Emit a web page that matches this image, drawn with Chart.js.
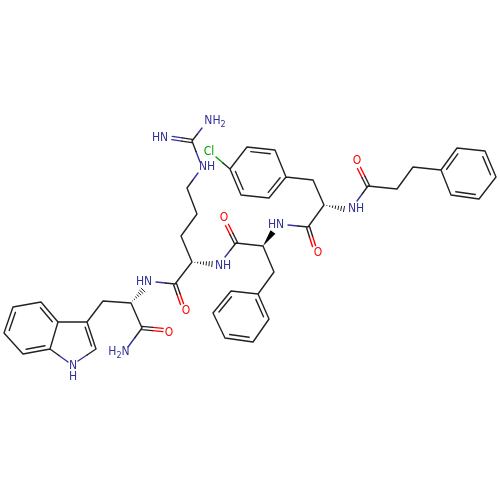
<!DOCTYPE html>
<html>
<head>
<meta charset="utf-8">
<style>
  html, body { margin: 0; padding: 0; background: #fff; }
  #box { width: 500px; height: 500px; }
</style>
<script src="https://cdn.jsdelivr.net/npm/chart.js@4"></script>
</head>
<body>
<div id="box"><canvas id="chart"></canvas></div>
<script>
// atoms (heteroatom entries are the visible bond ends)
const atomX = [13, 41, 58, 50, 23, 4, 87, 96, 68, 78, 103, 131, 142, 163, 128, 175, 182, 156, 192, 181, 197, 187, 198, 192, 172, 202, 236, 227, 263, 225, 308, 314, 288, 324, 313, 286, 275, 247, 230, 241, 269, 216, 274, 258, 231, 213, 225, 253, 269, 368, 359, 357, 397, 413, 441, 457, 485, 496, 479, 451, 200];
const atomY = [307, 302, 322, 349, 354, 333, 322, 349, 362, 361, 301, 303, 328, 330, 347, 284, 304, 282, 262, 236, 214, 188, 173, 141, 138, 128, 243, 225, 246, 257, 227, 246, 225, 205, 180, 177, 150, 147, 169, 195, 198, 157, 272, 294, 291, 313, 338, 342, 319, 186, 168, 201, 189, 167, 170, 148, 151, 177, 199, 195, 162];
const atomEl = ["C", "C", "C", "C", "C", "C", "C", "C", "N", "N", "C", "C", "C", "O", "N", "C", "O", "N", "C", "C", "C", "C", "N", "C", "N", "N", "C", "O", "C", "N", "C", "O", "N", "C", "C", "C", "C", "C", "C", "C", "C", "Cl", "C", "C", "C", "C", "C", "C", "C", "C", "O", "N", "C", "C", "C", "C", "C", "C", "C", "C", "N"];

// bonds drawn as one line
const singleFrom = [0, 1, 2, 3, 4, 5, 2, 6, 3, 7, 6, 10, 11, 12, 15, 15, 18, 19, 20, 21, 60, 23, 26, 26, 28, 42, 43, 44, 45, 46, 47, 48, 30, 30, 33, 34, 35, 36, 37, 38, 39, 40, 38, 49, 49, 52, 53, 54, 55, 56, 57, 58, 59];
const singleTo = [1, 2, 3, 4, 5, 0, 6, 7, 8, 9, 10, 11, 12, 14, 17, 18, 19, 20, 21, 22, 23, 25, 29, 28, 42, 43, 44, 45, 46, 47, 48, 43, 32, 33, 34, 35, 36, 37, 38, 39, 40, 35, 41, 51, 52, 53, 54, 55, 56, 57, 58, 59, 54];

// second line of ring double bonds, pulled towards the ring middle
const innerFrom = [5, 1, 3, 6, 36, 38, 40, 44, 43, 46, 54, 56, 58];
const innerTo = [0, 2, 4, 7, 37, 39, 35, 45, 48, 47, 55, 57, 59];
const innerMidX = [31, 31, 31, 73, 258, 258, 258, 241, 241, 241, 468, 468, 468];
const innerMidY = [328, 328, 328, 342, 173, 173, 173, 316, 316, 316, 174, 174, 174];

// C=O and C=NH bonds, drawn as two parallel lines
const pairFrom = [12, 15, 26, 30, 49, 23];
const pairTo = [13, 16, 27, 31, 50, 24];

// text on the atoms
const labelText = ["N", "H", "H2N", "HN", "O", "O", "NH", "O", "HN", "O", "NH", "NH2", "HN", "Cl", "O", "NH"];
const labelX = [73, 73, 119, 144, 169, 186, 223, 224, 276, 318, 207, 215, 160, 209, 357, 356];
const labelY = [366, 377, 352, 282, 333, 311, 266, 218, 225, 253, 167, 121, 138, 152, 161, 209];
const labelEl = ["N", "N", "N", "N", "O", "O", "N", "O", "N", "O", "N", "N", "N", "Cl", "O", "N"];

// stereo bonds
const hashFrom = [11, 18, 33];
const hashToX = [143, 212, 344];
const hashToY = [290, 264, 209];
const wedgeFrom = [28];
const wedgeToX = [273];
const wedgeToY = [232];

const colors = { C: "#222222", N: "#33339a", O: "#ff0000", Cl: "#00a000" };
const segs = { C: [], N: [], O: [], Cl: [] };

function addSeg(x1, y1, el1, x2, y2, el2) {
  const mx = (x1 + x2) / 2, my = (y1 + y2) / 2;
  segs[el1].push({ x: x1, y: y1 }, { x: mx, y: my }, { x: NaN, y: NaN });
  segs[el2].push({ x: mx, y: my }, { x: x2, y: y2 }, { x: NaN, y: NaN });
}

singleFrom.forEach((a, k) => {
  const b = singleTo[k];
  addSeg(atomX[a], atomY[a], atomEl[a], atomX[b], atomY[b], atomEl[b]);
});

innerFrom.forEach((a, k) => {
  const b = innerTo[k];
  const pull = 0.17;
  const x1 = atomX[a] + (innerMidX[k] - atomX[a]) * pull, y1 = atomY[a] + (innerMidY[k] - atomY[a]) * pull;
  const x2 = atomX[b] + (innerMidX[k] - atomX[b]) * pull, y2 = atomY[b] + (innerMidY[k] - atomY[b]) * pull;
  const dx = (x2 - x1) * 0.08, dy = (y2 - y1) * 0.08;
  segs.C.push({ x: x1 + dx, y: y1 + dy }, { x: x2 - dx, y: y2 - dy }, { x: NaN, y: NaN });
});

pairFrom.forEach((a, k) => {
  const b = pairTo[k];
  const dx = atomX[b] - atomX[a], dy = atomY[b] - atomY[a];
  const len = Math.hypot(dx, dy);
  const ox = -dy / len * 1.6, oy = dx / len * 1.6;
  [1, -1].forEach((s) => {
    addSeg(atomX[a] + s * ox, atomY[a] + s * oy, atomEl[a], atomX[b] + s * ox, atomY[b] + s * oy, atomEl[b]);
  });
});

// text, hashed and solid wedge bonds go on top through the same scales
const moleculeExtras = {
  id: "moleculeExtras",
  afterDatasetsDraw(chart) {
    const { ctx, scales: { x, y } } = chart;
    ctx.save();

    hashFrom.forEach((a, k) => {
      const x1 = x.getPixelForValue(atomX[a]), y1 = y.getPixelForValue(atomY[a]);
      const x2 = x.getPixelForValue(hashToX[k]), y2 = y.getPixelForValue(hashToY[k]);
      const len = Math.hypot(x2 - x1, y2 - y1);
      const nx = -(y2 - y1) / len, ny = (x2 - x1) / len;
      ctx.strokeStyle = colors.C;
      ctx.lineWidth = 1;
      for (let i = 1; i <= 7; i++) {
        const t = i / 7, w = 3 * t;
        const px = x1 + (x2 - x1) * t, py = y1 + (y2 - y1) * t;
        ctx.beginPath();
        ctx.moveTo(px - nx * w, py - ny * w);
        ctx.lineTo(px + nx * w, py + ny * w);
        ctx.stroke();
      }
    });

    wedgeFrom.forEach((a, k) => {
      const x1 = x.getPixelForValue(atomX[a]), y1 = y.getPixelForValue(atomY[a]);
      const x2 = x.getPixelForValue(wedgeToX[k]), y2 = y.getPixelForValue(wedgeToY[k]);
      const len = Math.hypot(x2 - x1, y2 - y1);
      const nx = -(y2 - y1) / len * 3, ny = (x2 - x1) / len * 3;
      ctx.fillStyle = "#000";
      ctx.beginPath();
      ctx.moveTo(x1, y1);
      ctx.lineTo(x2 + nx, y2 + ny);
      ctx.lineTo(x2 - nx, y2 - ny);
      ctx.closePath();
      ctx.fill();
    });

    const big = "12px 'DejaVu Sans Condensed', 'DejaVu Sans'", small = "9px 'DejaVu Sans Condensed', 'DejaVu Sans'";
    ctx.textBaseline = "middle";
    ctx.textAlign = "left";
    labelText.forEach((txt, k) => {
      let w = 0;
      for (const ch of txt) {
        ctx.font = /\d/.test(ch) ? small : big;
        w += ctx.measureText(ch).width;
      }
      let px = x.getPixelForValue(labelX[k]) - w / 2;
      const py = y.getPixelForValue(labelY[k]);
      ctx.fillStyle = colors[labelEl[k]];
      for (const ch of txt) {
        const sub = /\d/.test(ch);
        ctx.font = sub ? small : big;
        ctx.fillText(ch, px, py + (sub ? 4 : 0));
        px += ctx.measureText(ch).width;
      }
    });
    ctx.restore();
  },
};

new Chart(document.getElementById("chart"), {
  type: "scatter",
  data: {
    datasets: Object.keys(segs).map((el) => ({
      label: el,
      data: segs[el],
      showLine: true,
      spanGaps: false,
      borderColor: colors[el],
      borderWidth: 1.4,
      pointRadius: 0,
      borderCapStyle: "round",
    })),
  },
  options: {
    responsive: true,
    maintainAspectRatio: false,
    animation: false,
    layout: { padding: 0 },
    plugins: { legend: { display: false }, tooltip: { enabled: false } },
    scales: {
      x: { type: "linear", min: 0, max: 500, display: false },
      y: { type: "linear", min: 0, max: 500, reverse: true, display: false },
    },
  },
  plugins: [moleculeExtras],
});
</script>
</body>
</html>
